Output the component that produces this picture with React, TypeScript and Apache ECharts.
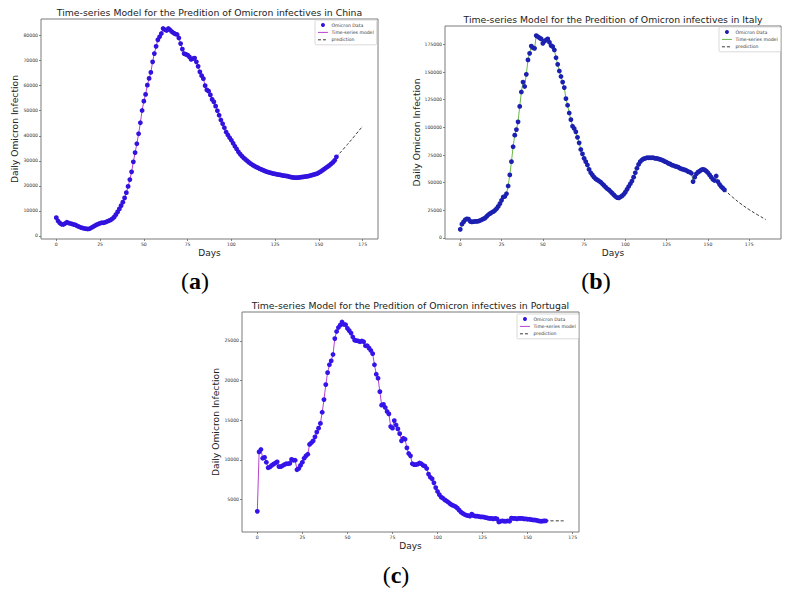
import React, { useEffect, useRef } from 'react';
import * as echarts from 'echarts';

// ---------- data (days 0..160) ----------
const chinaCases = [
  7300, 6000, 5200, 4700, 4600, 5000, 5500, 5200, 5000, 4800,
  4600, 4400, 4000, 3700, 3400, 3200, 3000, 2900, 2800, 2900,
  3300, 3700, 4100, 4500, 4800, 5100, 5300, 5300, 5500, 5800,
  6100, 6400, 6900, 7500, 8500, 9600, 10800, 12100, 13500, 15200,
  17300, 19800, 22500, 25600, 29600, 33300, 36800, 40800, 45200, 50100,
  53800, 56500, 60200, 62900, 65300, 69500, 72800, 75700, 78300, 79500,
  80800, 82800, 82300, 82000, 82800, 82200, 81500, 81000, 80600, 80400,
  79000, 76800, 74600, 72800, 72500, 72200, 71500, 70500, 70800, 71000,
  69500, 67700, 65500, 64000, 62800, 60000, 58300, 57800, 56300, 54500,
  53500, 51800, 50000, 48200, 46300, 44800, 43200, 41500, 40300, 39200,
  38200, 37000, 35800, 34700, 33600, 32700, 31900, 31200, 30600, 30000,
  29400, 28900, 28400, 28000, 27600, 27300, 26900, 26600, 26300, 26000,
  25700, 25500, 25300, 25100, 24900, 24800, 24600, 24500, 24400, 24200,
  24100, 24000, 23900, 23700, 23500, 23400, 23300, 23300, 23300, 23400,
  23500, 23600, 23700, 23800, 23900, 24100, 24300, 24500, 24700, 24900,
  25300, 25700, 26200, 26700, 27200, 27700, 28200, 28800, 29400, 30200,
  31600,
];
const chinaPredDays = [160, 165, 170, 175];
const chinaPredCases = [31600, 35500, 39600, 43900];

const italyCases = [
  7800, 12500, 14500, 16500, 17200, 17000, 15000, 14500, 14700, 15000,
  15000, 15200, 15800, 16500, 17200, 18000, 19500, 21000, 22000, 23000,
  23800, 25000, 26500, 28500, 31000, 34000, 37000, 37500, 40000, 47000,
  57000, 69000, 82500, 93000, 98000, 105000, 119000, 132000, 141000, 137000,
  148000, 161000, 167000, 173500, 172000, 171500, 183000, 182000, 181000, 180000,
  176000, 178000, 179000, 180000, 177000, 174000, 173000, 170000, 163000, 157000,
  151000, 146000, 141000, 136000, 126000, 120000, 113000, 107000, 101000, 99000,
  96000, 91000, 86000, 80000, 76000, 72000, 69000, 66000, 62000, 59000,
  57000, 55000, 53500, 52500, 51500, 50500, 49000, 47500, 46000, 44500,
  43500, 42000, 40500, 39000, 37500, 36500, 36300, 37000, 38000, 39500,
  41500, 44000, 46500, 49000, 51500, 55000, 59000, 63000, 66500, 69000,
  70500, 71500, 72000, 72500, 72500, 72500, 72500, 72500, 72000, 72000,
  71500, 71000, 70500, 70000, 69000, 68500, 67500, 67000, 66000, 65500,
  65000, 64500, 64000, 63000, 62500, 62000, 61500, 61000, 60000, 59500,
  58500, 51000, 55000, 58000, 59500, 60500, 61500, 62000, 61500, 60500,
  59000, 57000, 55000, 53000, 52000, 56000, 51000, 48500, 46500, 45000,
  43500,
];
const italyPredDays = [160, 165, 170, 175, 180, 185];
const italyPredCases = [43500, 36800, 30800, 25600, 21000, 16700];

const portugalCases = [
  3500, 11000, 11300, 10200, 10300, 9700, 9000, 9100, 9300, 9450,
  9600, 9750, 9150, 9150, 9250, 9400, 9500, 9500, 9550, 10050,
  9950, 9950, 8750, 8900, 9300, 9700, 10200, 10500, 10700, 11950,
  12150, 12400, 12900, 13500, 14000, 14600, 16000, 17600, 19500, 21000,
  22000, 22500, 23300, 25300, 26200, 26700, 27000, 27400, 27100, 27050,
  26600, 26300, 26000, 25500, 25100, 25050, 25000, 24900, 25000, 24900,
  24400, 24400, 24100, 23800, 23400, 22000, 20800, 20300, 18600, 16900,
  17000, 16600, 16100, 15800, 14200, 14000, 14950, 14400, 13900, 13300,
  12400, 12700, 12600, 11500, 10800, 10500, 9500, 9400, 9400, 9450,
  9600, 9500, 9300, 9200, 8900, 8200, 7800, 7600, 7100, 6500,
  6000, 5600, 5300, 5150, 4950, 4800, 4650, 4450, 4300, 4200,
  4100, 3900, 3650, 3400, 3250, 3100, 3000, 2950, 2900, 3150,
  2950, 2900, 2900, 2850, 2800, 2800, 2750, 2700, 2650, 2600,
  2600, 2550, 2600, 2550, 2150, 2250, 2300, 2250, 2250, 2300,
  2250, 2650, 2600, 2600, 2550, 2600, 2600, 2600, 2550, 2550,
  2500, 2500, 2450, 2400, 2400, 2350, 2300, 2250, 2250, 2300,
  2300,
];
const portugalPredDays = [160, 165, 170];
const portugalPredCases = [2300, 2300, 2300];

const xTicks = [0, 25, 50, 75, 100, 125, 150, 175];
const yTicksChina = [0, 10000, 20000, 30000, 40000, 50000, 60000, 70000, 80000];
const yTicksItaly = [0, 25000, 50000, 75000, 100000, 125000, 150000, 175000];
const yTicksPortugal = [5000, 10000, 15000, 20000, 25000];

const titles = [
  'Time-series Model for the Predition of Omicron infectives in China',
  'Time-series Model for the Predition of Omicron infectives in Italy',
  'Time-series Model for the Predition of Omicron infectives in Portugal',
];
const panelLetters = ['a', 'b', 'c'];

// ---------- layout / style ----------
const FONT = "'DejaVu Sans', sans-serif";
const panels = [
  {
    grid: { left: 41, top: 19, width: 337, height: 220 },
    xMin: -8.75, xMax: 183.75, yMin: -1200, yMax: 86600,
    yTicks: yTicksChina, cases: chinaCases, predDays: chinaPredDays, predCases: chinaPredCases,
    dot: '#3212de', line: '#b02cc8', titleX: 209.5, titleTop: 8,
    yGap: 21, legend: { left: 315, top: 20 }, letter: { x: 195, y: 281 },
  },
  {
    grid: { left: 445, top: 26, width: 336, height: 213 },
    xMin: -9.25, xMax: 194.25, yMin: -950, yMax: 191700,
    yTicks: yTicksItaly, cases: italyCases, predDays: italyPredDays, predCases: italyPredCases,
    dot: '#1c20b0', line: '#58b034', titleX: 613, titleTop: 14.5,
    yGap: 23, legend: { left: 719, top: 27 }, letter: { x: 596, y: 281 },
  },
  {
    grid: { left: 242, top: 312, width: 337, height: 220 },
    xMin: -8.5, xMax: 178.5, yMin: 890, yMax: 28660,
    yTicks: yTicksPortugal, cases: portugalCases, predDays: portugalPredDays, predCases: portugalPredCases,
    dot: '#3414ea', line: '#b02cc8', titleX: 410.5, titleTop: 300.5,
    yGap: 21.5, legend: { left: 517, top: 314 }, letter: { x: 396, y: 575 },
  },
];

function buildOption() {
  const grid: any[] = [];
  const xAxis: any[] = [];
  const yAxis: any[] = [];
  const series: any[] = [];
  const title: any[] = [];
  const legend: any[] = [];
  const graphic: any[] = [];

  panels.forEach((p, i) => {
    grid.push({
      ...p.grid,
      show: true,
      borderColor: '#7a7a7a',
      borderWidth: 1,
      backgroundColor: '#fff',
      containLabel: false,
    });
    xAxis.push({
      type: 'value',
      gridIndex: i,
      min: p.xMin,
      max: p.xMax,
      position: 'bottom',
      axisLine: { show: false, onZero: false },
      splitLine: { show: false },
      axisTick: { show: true, length: 2, customValues: xTicks, lineStyle: { color: '#666', width: 0.8 } },
      axisLabel: {
        customValues: xTicks,
        formatter: (v: number) => String(v),
        fontSize: 4.6,
        fontFamily: FONT,
        color: '#333',
        margin: 3,
      },
      name: 'Days',
      nameLocation: 'middle',
      nameGap: 9,
      nameTextStyle: { fontFamily: FONT, fontSize: 9, color: '#222' },
    });
    yAxis.push({
      type: 'value',
      gridIndex: i,
      min: p.yMin,
      max: p.yMax,
      position: 'left',
      axisLine: { show: false, onZero: false },
      splitLine: { show: false },
      axisTick: { show: true, length: 2, customValues: p.yTicks, lineStyle: { color: '#666', width: 0.8 } },
      axisLabel: {
        customValues: p.yTicks,
        formatter: (v: number) => String(v),
        fontSize: 4.6,
        fontFamily: FONT,
        color: '#333',
        margin: 3,
      },
      name: 'Daily Omicron Infection',
      nameLocation: 'middle',
      nameRotate: 90,
      nameGap: p.yGap,
      nameTextStyle: { fontFamily: FONT, fontSize: 9.2, color: '#222' },
    });

    const pts = p.cases.map((v, d) => [d, v]);
    const predPts = p.predDays.map((d, k) => [d, p.predCases[k]]);

    series.push({
      type: 'line',
      name: 'Time-series model',
      xAxisIndex: i,
      yAxisIndex: i,
      data: pts,
      symbol: 'none',
      lineStyle: { color: p.line, width: 0.9 },
      itemStyle: { color: p.line },
      z: 2,
    });
    series.push({
      type: 'scatter',
      name: 'Omicron Data',
      xAxisIndex: i,
      yAxisIndex: i,
      data: pts,
      symbol: 'circle',
      symbolSize: 4.8,
      itemStyle: { color: p.dot, opacity: 1 },
      z: 3,
    });
    series.push({
      type: 'line',
      name: 'prediction',
      xAxisIndex: i,
      yAxisIndex: i,
      data: predPts,
      symbol: 'none',
      smooth: true,
      lineStyle: { color: '#222', width: 0.9, type: [3, 2] },
      itemStyle: { color: '#222' },
      z: 2,
    });

    title.push({
      text: titles[i],
      left: p.titleX,
      top: p.titleTop,
      textAlign: 'center',
      padding: 0,
      textStyle: { fontFamily: FONT, fontSize: 9.3, fontWeight: 'normal', color: '#222' },
    });

    const hidden = { color: 'rgba(0,0,0,0)', borderWidth: 0, borderColor: 'rgba(0,0,0,0)' };
    legend.push({
      orient: 'vertical',
      left: p.legend.left,
      top: p.legend.top,
      itemWidth: 10,
      itemHeight: 4,
      itemGap: 2.4,
      selectedMode: false,
      backgroundColor: '#fff',
      borderColor: '#cfcfcf',
      borderWidth: 0.8,
      borderRadius: 1.5,
      padding: [2.5, 3, 2.5, 2.5],
      textStyle: { fontFamily: FONT, fontSize: 4.6, color: '#333', padding: [0, 0, 0, -1.5] },
      data: [
        { name: 'Omicron Data', icon: 'circle', itemStyle: { color: p.dot, opacity: 1 } },
        { name: 'Time-series model', itemStyle: hidden, lineStyle: { color: p.line, width: 0.9 } },
        { name: 'prediction', itemStyle: hidden, lineStyle: { color: '#222', width: 0.9, type: [3, 2] } },
      ],
    });

    graphic.push({
      type: 'text',
      x: p.letter.x,
      y: p.letter.y,
      style: {
        text: '{p|(}{b|' + panelLetters[i] + '}{p|)}',
        align: 'center',
        verticalAlign: 'middle',
        rich: {
          p: { fontFamily: "'Liberation Serif', serif", fontSize: 24, color: '#000' },
          b: { fontFamily: "'Liberation Serif', serif", fontSize: 24, fontWeight: 'bold', color: '#000' },
        },
      },
    });
  });

  return {
    animation: false,
    backgroundColor: '#fff',
    grid,
    xAxis,
    yAxis,
    series,
    title,
    legend,
    graphic,
  };
}

export default function App() {
  const ref = useRef<HTMLDivElement>(null);
  useEffect(() => {
    if (!ref.current) return;
    const chart = echarts.init(ref.current, undefined, { renderer: 'svg' });
    chart.setOption(buildOption() as any);
    return () => chart.dispose();
  }, []);
  return (
    <div
      ref={ref}
      style={{ position: 'fixed', left: 0, top: 0, width: 789, height: 594, background: '#fff' }}
    />
  );
}
